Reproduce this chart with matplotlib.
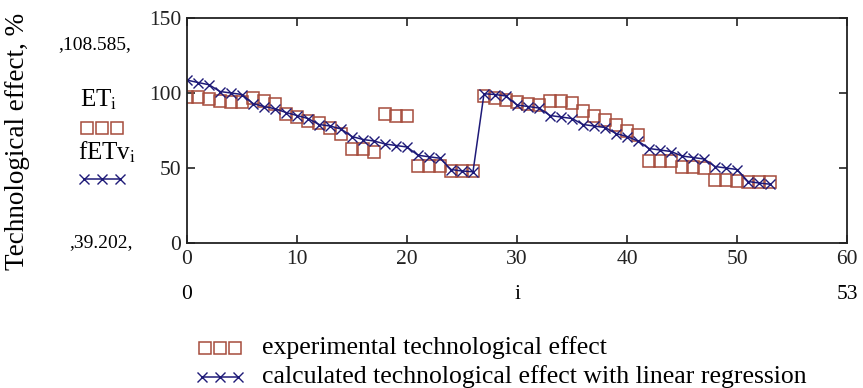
import matplotlib
matplotlib.use("Agg")
import matplotlib.pyplot as plt
from matplotlib.lines import Line2D

plt.rcParams['font.family'] = ['Liberation Serif', 'DejaVu Serif']
plt.rcParams['mathtext.fontset'] = 'stix'

# experimental technological effect ET_i, %
i_idx = list(range(54))
et = [97.5, 97.5, 96, 95, 94, 94, 97, 95, 92.5, 86, 84, 81.5, 80, 77, 73,
      62.5, 62.5, 60.5, 86, 85, 84.5, 51.5, 51.5, 51.5, 48, 48, 48,
      98, 97, 95.5, 94, 93, 92, 95, 94.5, 93.5, 88, 85, 82, 79, 75, 72,
      55, 55, 55, 51, 51, 50, 42, 42, 41.5, 40.5, 40.5, 40.5]
# calculated technological effect with linear regression fETv_i, %
fetv = [108.585, 107, 105.5, 101, 100, 99, 93, 91, 89.5, 87, 85, 83, 79, 78, 76,
        71, 69, 68, 66, 65, 64, 58.5, 57.5, 56.5, 49, 48, 47.5,
        99.5, 99, 98, 92, 91, 90, 85, 84, 83, 79, 78, 77, 73, 71, 68,
        63, 62, 61, 58, 57, 56, 51, 50, 49, 41, 40, 39.202]
x_ticks = [0, 10, 20, 30, 40, 50, 60]
y_ticks = [0, 50, 100, 150]

sq_col = '#a64c3c'
cr_col = '#1e1a78'

fig = plt.figure(figsize=(8.63, 3.88), dpi=100)
ax = fig.add_axes([187 / 863, 1 - 243 / 388, 660 / 863, 225 / 388])

ax.plot(i_idx, et, linestyle='none', marker='s', markersize=8.2,
        markerfacecolor='none', markeredgecolor=sq_col, markeredgewidth=1.1)
ax.plot(i_idx, fetv, color=cr_col, linewidth=1.1, marker='x', markersize=6.5,
        markeredgewidth=1.0)

ax.set_xlim(0, 60)
ax.set_ylim(0, 150)
ax.set_xticks(x_ticks)
ax.set_yticks(y_ticks)
ax.tick_params(direction='in', length=6, width=1.2, top=True, right=True,
               labelsize=15.5, colors='#222222')
ax.tick_params(axis='x', pad=5)
ax.tick_params(axis='y', pad=4)
for s in ax.spines.values():
    s.set_linewidth(1.3)
    s.set_color('#222222')

# second row of x labels (range markers and variable name)
for xa, lab in [(0, '0'), (0.5, 'i'), (1, '53')]:
    ax.text(xa, -0.23, lab, transform=ax.transAxes, ha='center', va='center', fontsize=15.5)

# y axis label and range markers
fig.text(18 / 863, 1 - 141 / 388, 'Technological effect, %', rotation=90,
         ha='center', va='center', fontsize=19.5)
fig.text(95 / 863, 1 - 45 / 388, ',108.585,', ha='center', va='center', fontsize=14)
fig.text(101 / 863, 1 - 243 / 388, ',39.202,', ha='center', va='center', fontsize=14)
fig.text(99 / 863, 1 - 100 / 388, r'ET$_\mathrm{i}$', ha='center', va='center', fontsize=18)
fig.text(107 / 863, 1 - 152 / 388, r'fETv$_\mathrm{i}$', ha='center', va='center', fontsize=18)
fig.add_artist(Line2D([87 / 863, 102 / 863, 117 / 863], [1 - 128 / 388] * 3,
                      linestyle='none', marker='s', markersize=8.5, markerfacecolor='none',
                      markeredgecolor=sq_col, markeredgewidth=1.1))
fig.add_artist(Line2D([84 / 863, 102 / 863, 120 / 863], [1 - 179 / 388] * 3,
                      color=cr_col, linewidth=1.1, marker='x', markersize=7.5,
                      markeredgewidth=1.0))

# bottom legend
fig.add_artist(Line2D([205 / 863, 220 / 863, 235 / 863], [1 - 348 / 388] * 3,
                      linestyle='none', marker='s', markersize=8.5, markerfacecolor='none',
                      markeredgecolor=sq_col, markeredgewidth=1.1))
fig.add_artist(Line2D([202 / 863, 220 / 863, 238 / 863], [1 - 377 / 388] * 3,
                      color=cr_col, linewidth=1.1, marker='x', markersize=7.5,
                      markeredgewidth=1.0))
fig.text(262 / 863, 1 - 348 / 388, 'experimental technological effect',
         ha='left', va='center', fontsize=18.5)
fig.text(262 / 863, 1 - 377 / 388, 'calculated technological effect with linear regression',
         ha='left', va='center', fontsize=18.5)

fig.savefig('out.png', dpi=100, facecolor='white')
